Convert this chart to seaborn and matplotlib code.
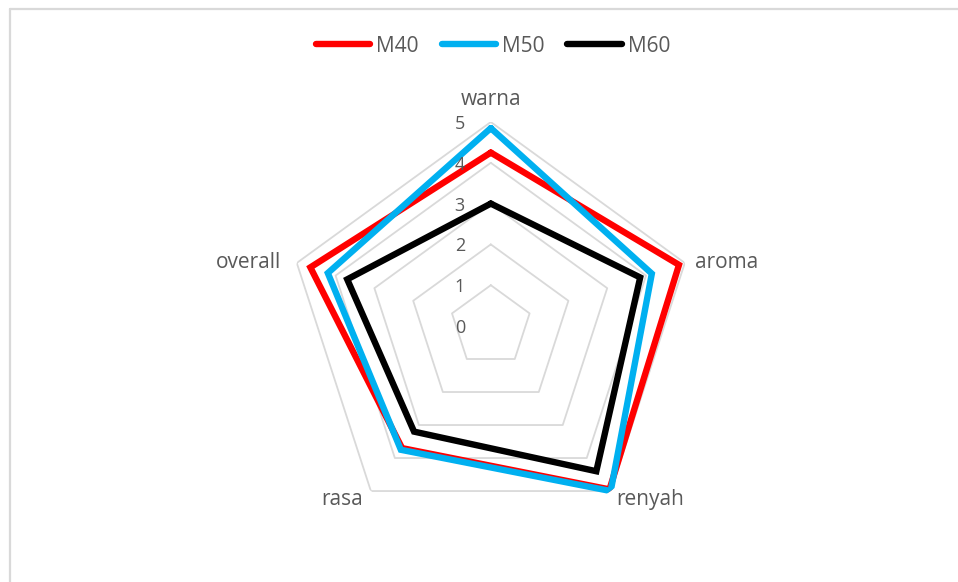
import numpy as np
import pandas as pd
import matplotlib
matplotlib.use('Agg')
import matplotlib.pyplot as plt
import seaborn as sns
from matplotlib.lines import Line2D

# ---- data ----
categories = ['warna', 'aroma', 'renyah', 'rasa', 'overall']
series_names = ['M40', 'M50', 'M60']
m40 = [4.25, 4.85, 4.95, 3.70, 4.65]
m50 = [4.85, 4.15, 5.00, 3.75, 4.20]
m60 = [3.00, 3.85, 4.40, 3.20, 3.70]
tick_values = [0, 1, 2, 3, 4, 5]
colors = ['#FF0000', '#00B0F0', '#000000']

sns.set_style('white')
plt.rcParams['font.family'] = ['Open Sans', 'DejaVu Sans']
text_color = '#595959'

n = len(categories)
angles = np.linspace(0, 2 * np.pi, n, endpoint=False)
rows = []
for name, vals in zip(series_names, [m40, m50, m60]):
    for i in range(n + 1):
        th = angles[i] if i < n else 2 * np.pi
        rows.append({'theta': th, 'value': vals[i % n], 'series': name})
df = pd.DataFrame(rows)

W, H = 958, 582
fig = plt.figure(figsize=(W / 100, H / 100), dpi=100)
cx, cy, R = 490.8, 326.0, 204.0
ax = fig.add_axes([(cx - R) / W, 1 - (cy + R) / H, 2 * R / W, 2 * R / H], projection='polar')
ax.set_theta_offset(np.pi / 2)
ax.set_theta_direction(-1)
ax.patch.set_alpha(0)

# pentagon gridlines
closed = np.append(angles, angles[0])
for t in tick_values[1:]:
    ax.plot(closed, [t] * (n + 1), color='#d9d9d9', lw=1.3, zorder=1)

sns.lineplot(data=df, x='theta', y='value', hue='series', palette=colors,
             sort=False, estimator=None, linewidth=4.6, legend=False, ax=ax, zorder=3)
for line in ax.lines[-3:]:
    line.set_solid_joinstyle('miter')

ax.set_ylim(0, 5)
ax.set_xticks([])
ax.set_yticks([])
ax.grid(False)
ax.spines['polar'].set_visible(False)
ax.set_xlabel('')
ax.set_ylabel('')

# radial tick labels
for t in tick_values:
    ax.annotate(str(t), xy=(0, t), xytext=(-31, -7), textcoords='offset pixels',
                ha='center', va='baseline', fontsize=13, color=text_color)

# category labels
offsets = [((0, 17), 'center'), ((10, -5), 'left'), ((6, -14), 'left'),
           ((-8, -14), 'right'), ((-16, -5), 'right')]
for ang, cat, (off, ha) in zip(angles, categories, offsets):
    ax.annotate(cat, xy=(ang, 5), xytext=off, textcoords='offset pixels',
                ha=ha, va='baseline', fontsize=15, color=text_color)

# legend
handles = [Line2D([0], [0], color=c, lw=4.6, solid_capstyle='round') for c in colors]
fig.legend(handles, series_names, loc='center', bbox_to_anchor=(493 / W, 1 - 46 / H),
           ncol=3, frameon=False, handlelength=2.6, handletextpad=0.3,
           columnspacing=1.1, fontsize=15, labelcolor=text_color)

# chart border (left and top visible)
fig.add_artist(Line2D([9.5 / W, 9.5 / W], [0, 1 - 8.5 / H], transform=fig.transFigure,
                      color='#d9d9d9', lw=1.6))
fig.add_artist(Line2D([9.5 / W, 1], [1 - 8.5 / H, 1 - 8.5 / H], transform=fig.transFigure,
                      color='#d9d9d9', lw=1.6))

fig.savefig('out.png', dpi=100)
